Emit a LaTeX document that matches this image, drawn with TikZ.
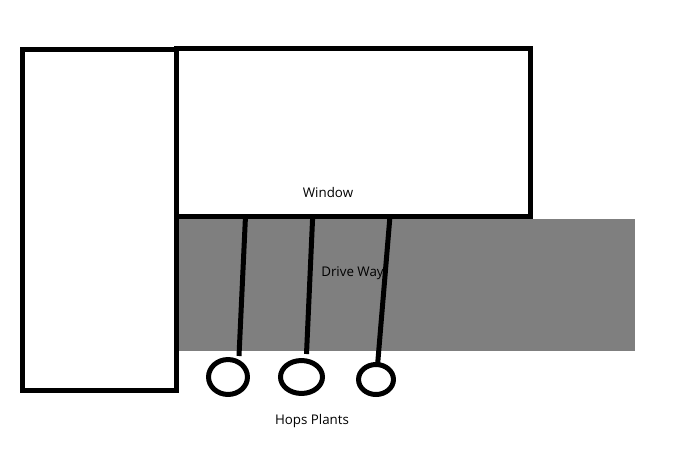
\documentclass[tikz,border=0pt]{standalone}
\usepackage{fontspec}
\setmainfont{Open Sans}
\usetikzlibrary{shapes.geometric}
\definecolor{drive}{RGB}{127,127,127}
\tikzset{
  heavy/.style={draw=black,line width=3.75pt},
  plant/.style={ellipse,draw=black,line width=3.75pt,inner sep=0pt,outer sep=0pt},
  lbl/.style={font=\fontsize{10pt}{12pt}\selectfont,text=black,inner sep=0pt}
}
\begin{document}
\begin{tikzpicture}[x=0.75pt,y=-0.75pt]
\useasboundingbox (0,0) rectangle (678,460);
\fill[white] (0,0) rectangle (678,460);
\fill[drive] (177,219) rectangle (635,351);
\draw[heavy] (22,49.5) rectangle (176.5,390);
\draw[heavy] (176.5,48.5) rectangle (530.5,216);
\node[plant,minimum width=29.2pt,minimum height=26.2pt] (p1) at (228,377) {};
\node[plant,minimum width=31.5pt,minimum height=24.7pt] (p2) at (301.5,377) {};
\node[plant,minimum width=26.2pt,minimum height=22.5pt] (p3) at (376,379.5) {};
\coordinate (t1) at (245.5,216);
\coordinate (b1) at (239,356);
\coordinate (t2) at (312.7,216);
\coordinate (b2) at (306.5,354);
\coordinate (t3) at (390,216);
\draw[heavy] (t1) -- (b1);
\draw[heavy] (t2) -- (b2);
\draw[heavy] (t3) -- ([xshift=1.2pt]p3.north);
\node[lbl] (window) at (328,192.5) {Window};
\node[lbl] (drive) at (352.5,273) {Drive Way};
\node[lbl] (hops) at (312,421) {Hops Plants};
\end{tikzpicture}
\end{document}
